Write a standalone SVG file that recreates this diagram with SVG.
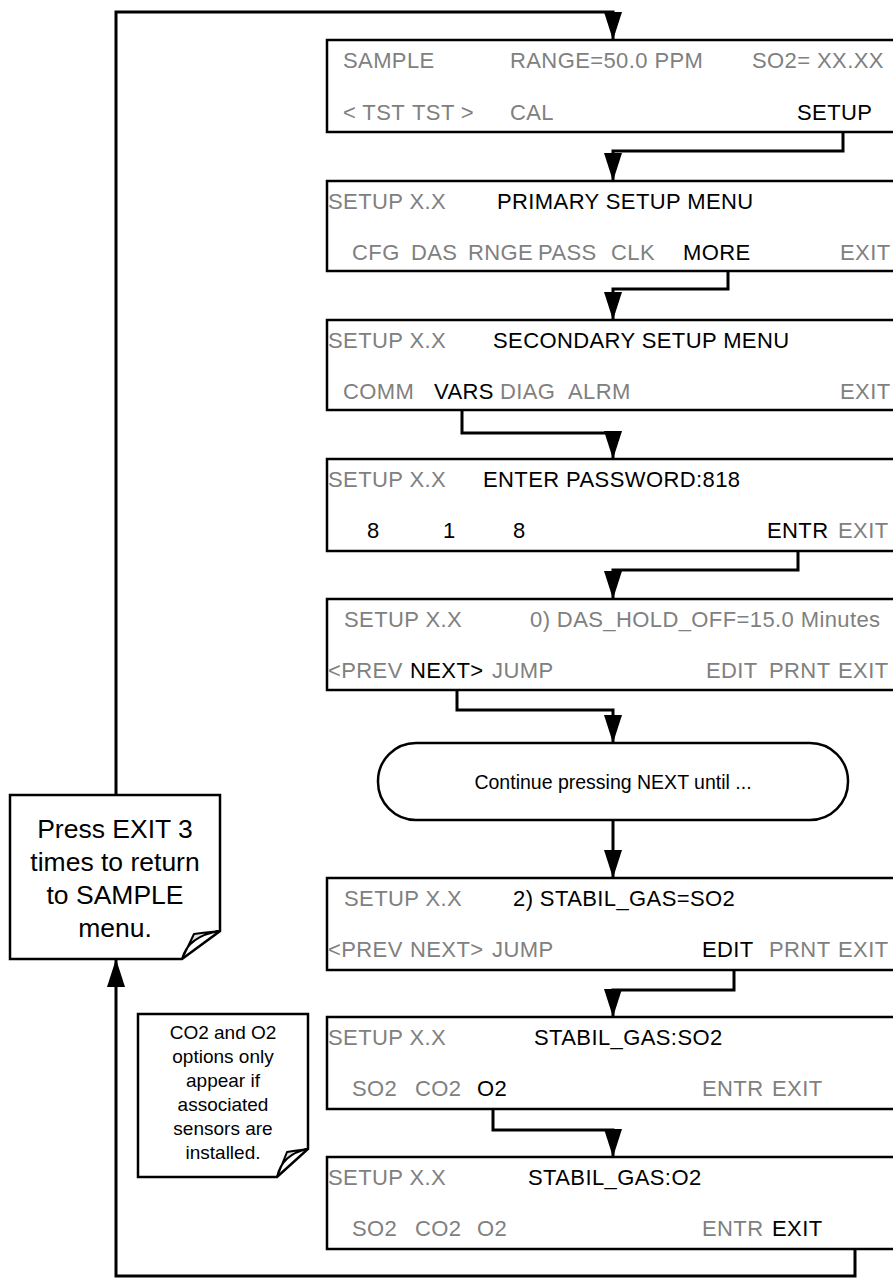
<svg xmlns="http://www.w3.org/2000/svg" width="893" height="1278" viewBox="0 0 893 1278">
<style>
.box{fill:#fff;stroke:#000;stroke-width:2.5}
.note{fill:#fff;stroke:#000;stroke-width:2.5;stroke-linejoin:miter}
.fold{fill:#e0e0e0;stroke:#000;stroke-width:2}
.con{fill:none;stroke:#000;stroke-width:3;stroke-linejoin:miter}
text{font-family:"Liberation Sans",Arial,sans-serif}
.t{font-size:22px;letter-spacing:0.4px;fill:#808080}
.k{font-size:22px;letter-spacing:0.4px;fill:#000}
.n1{font-size:26.5px;fill:#000;text-anchor:middle}
.n2{font-size:19px;fill:#000;text-anchor:middle}
.p{font-size:19.5px;fill:#000;text-anchor:middle}
</style>
<defs>
<marker id="ah" markerUnits="userSpaceOnUse" markerWidth="28" markerHeight="18" refX="28" refY="9" orient="auto">
<path d="M0,0 L28,9 L0,18 z" fill="#000"/>
</marker>
</defs>

<g id="connectors">
<path class="con" d="M116,795 V12 H613 V40" marker-end="url(#ah)"/>
<path class="con" d="M843,132 V151 H613 V181" marker-end="url(#ah)"/>
<path class="con" d="M728,271 V289 H613 V320" marker-end="url(#ah)"/>
<path class="con" d="M462,410 V433 H613 V459" marker-end="url(#ah)"/>
<path class="con" d="M798,551 V570 H613 V599" marker-end="url(#ah)"/>
<path class="con" d="M457,690 V710 H613 V743" marker-end="url(#ah)"/>
<path class="con" d="M613,820 V878" marker-end="url(#ah)"/>
<path class="con" d="M734,970 V990 H613 V1017" marker-end="url(#ah)"/>
<path class="con" d="M493,1109 V1130 H613 V1157" marker-end="url(#ah)"/>
<path class="con" d="M855,1249 V1276 H116 V959" marker-end="url(#ah)"/>
</g>

<g id="box1">
<rect class="box" x="327" y="40" width="580" height="92"/>
<text class="t" x="343" y="68">SAMPLE</text>
<text class="t" x="510" y="68">RANGE=50.0 PPM</text>
<text class="t" x="752" y="68">SO2= XX.XX</text>
<text class="t" x="343" y="120">&lt; TST</text>
<text class="t" x="412" y="120">TST &gt;</text>
<text class="t" x="510" y="120">CAL</text>
<text class="k" x="797" y="120">SETUP</text>
</g>

<g id="box2">
<rect class="box" x="327" y="181" width="580" height="90"/>
<text class="t" x="328" y="209">SETUP X.X</text>
<text class="k" x="497" y="209">PRIMARY SETUP MENU</text>
<text class="t" x="352" y="260">CFG</text>
<text class="t" x="411" y="260">DAS</text>
<text class="t" x="468" y="260">RNGE</text>
<text class="t" x="538" y="260">PASS</text>
<text class="t" x="611" y="260">CLK</text>
<text class="k" x="683" y="260">MORE</text>
<text class="t" x="840" y="260">EXIT</text>
</g>

<g id="box3">
<rect class="box" x="327" y="320" width="580" height="90"/>
<text class="t" x="328" y="348">SETUP X.X</text>
<text class="k" x="493" y="348">SECONDARY SETUP MENU</text>
<text class="t" x="343" y="399">COMM</text>
<text class="k" x="434" y="399">VARS</text>
<text class="t" x="500" y="399">DIAG</text>
<text class="t" x="568" y="399">ALRM</text>
<text class="t" x="840" y="399">EXIT</text>
</g>

<g id="box4">
<rect class="box" x="327" y="459" width="580" height="92"/>
<text class="t" x="328" y="487">SETUP X.X</text>
<text class="k" x="483" y="487">ENTER PASSWORD:818</text>
<text class="k" x="367" y="538">8</text>
<text class="k" x="443" y="538">1</text>
<text class="k" x="513" y="538">8</text>
<text class="k" x="767" y="538">ENTR</text>
<text class="t" x="838" y="538">EXIT</text>
</g>

<g id="box5">
<rect class="box" x="327" y="599" width="580" height="91"/>
<text class="t" x="344" y="627">SETUP X.X</text>
<text class="t" x="530" y="627">0) DAS_HOLD_OFF=15.0 Minutes</text>
<text class="t" x="328" y="678">&lt;PREV</text>
<text class="k" x="410" y="678">NEXT&gt;</text>
<text class="t" x="492" y="678">JUMP</text>
<text class="t" x="706" y="678">EDIT</text>
<text class="t" x="769" y="678">PRNT</text>
<text class="t" x="838" y="678">EXIT</text>
</g>

<g id="pill">
<rect class="box" x="378" y="743" width="470" height="77" rx="38" ry="38"/>
<text class="p" x="613" y="789">Continue pressing NEXT until ...</text>
</g>

<g id="box6">
<rect class="box" x="327" y="878" width="580" height="92"/>
<text class="t" x="344" y="906">SETUP X.X</text>
<text class="k" x="513" y="906">2) STABIL_GAS=SO2</text>
<text class="t" x="328" y="957">&lt;PREV</text>
<text class="t" x="410" y="957">NEXT&gt;</text>
<text class="t" x="492" y="957">JUMP</text>
<text class="k" x="702" y="957">EDIT</text>
<text class="t" x="769" y="957">PRNT</text>
<text class="t" x="838" y="957">EXIT</text>
</g>

<g id="box7">
<rect class="box" x="327" y="1017" width="580" height="92"/>
<text class="t" x="328" y="1045">SETUP X.X</text>
<text class="k" x="534" y="1045">STABIL_GAS:SO2</text>
<text class="t" x="352" y="1096">SO2</text>
<text class="t" x="415" y="1096">CO2</text>
<text class="k" x="477" y="1096">O2</text>
<text class="t" x="702" y="1096">ENTR</text>
<text class="t" x="772" y="1096">EXIT</text>
</g>

<g id="box8">
<rect class="box" x="327" y="1157" width="580" height="92"/>
<text class="t" x="328" y="1185">SETUP X.X</text>
<text class="k" x="528" y="1185">STABIL_GAS:O2</text>
<text class="t" x="352" y="1236">SO2</text>
<text class="t" x="415" y="1236">CO2</text>
<text class="t" x="477" y="1236">O2</text>
<text class="t" x="702" y="1236">ENTR</text>
<text class="k" x="772" y="1236">EXIT</text>
</g>

<g id="note-exit">
<path class="note" d="M10,795 H220 V931 L182,959 H10 Z"/>
<path class="fold" d="M182,959 Q188,936 220,931 Q200,933 194,934 Z"/>
<text class="n1" x="115" y="838">Press EXIT 3</text>
<text class="n1" x="115" y="871">times to return</text>
<text class="n1" x="115" y="904">to SAMPLE</text>
<text class="n1" x="115" y="937">menu.</text>
</g>

<g id="note-sensors">
<path class="note" d="M138,1014 H308 V1149 L277,1177 H138 Z"/>
<path class="fold" d="M277,1177 Q282,1154 308,1149 Q292,1151 287,1152 Z"/>
<text class="n2" x="223" y="1039">CO2 and O2</text>
<text class="n2" x="223" y="1063">options only</text>
<text class="n2" x="223" y="1087">appear if</text>
<text class="n2" x="223" y="1111">associated</text>
<text class="n2" x="223" y="1135">sensors are</text>
<text class="n2" x="223" y="1159">installed.</text>
</g>
</svg>
